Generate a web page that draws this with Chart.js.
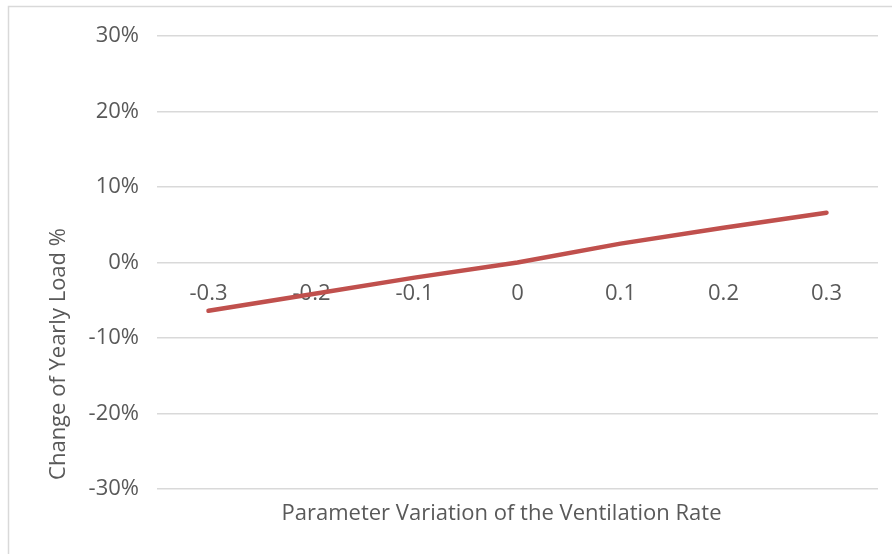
<!DOCTYPE html>
<html>
<head>
<meta charset="utf-8">
<script src="https://cdn.jsdelivr.net/npm/chart.js@4/dist/chart.umd.min.js"></script>
<style>
  html, body { margin: 0; padding: 0; background: #fff; }
  #wrap { position: relative; width: 892px; height: 554px; }
</style>
</head>
<body>
<div id="wrap"><canvas id="c" width="892" height="554"></canvas></div>
<script>
const categories = ["-0.3", "-0.2", "-0.1", "0", "0.1", "0.2", "0.3"];
const yearlyLoadChange = [-0.064, -0.042, -0.020, 0.000, 0.025, 0.046, 0.066];
const yTickValues = [-0.3, -0.2, -0.1, 0, 0.1, 0.2, 0.3];
const xTitle = "Parameter Variation of the Ventilation Rate";
const yTitle = "Change of Yearly Load %";

const FONT = "'Open Sans', 'DejaVu Sans', sans-serif";
const TEXT = "#595959";
const GRID = "#d9d9d9";

const borderPlugin = {
  id: 'outerBorder',
  beforeDraw(chart) {
    const ctx = chart.ctx;
    ctx.save();
    ctx.fillStyle = '#fff';
    ctx.fillRect(0, 0, chart.width, chart.height);
    ctx.strokeStyle = GRID;
    ctx.lineWidth = 1.5;
    ctx.beginPath();
    ctx.moveTo(8.5, chart.height + 2);
    ctx.lineTo(8.5, 6.5);
    ctx.lineTo(chart.width + 2, 6.5);
    ctx.stroke();
    ctx.restore();
  }
};

// Shift the title-only axes so their titles sit where the reference places them
const titleShiftPlugin = {
  id: 'titleShift',
  afterLayout(chart) {
    const x2 = chart.scales.x2;
    x2.left = chart.chartArea.left - 32;
    x2.right = chart.chartArea.right;
    x2.bottom += 4;
    const y2 = chart.scales.y2;
    y2.top = 214;
    y2.bottom = 494;
    y2.left += 2;
    y2.right += 2;
  }
};

new Chart(document.getElementById('c'), {
  type: 'line',
  data: {
    labels: categories,
    datasets: [{
      data: yearlyLoadChange,
      xAxisID: 'x',
      yAxisID: 'y',
      borderColor: '#C0504D',
      borderWidth: 4.5,
      borderCapStyle: 'round',
      borderJoinStyle: 'round',
      pointRadius: 0,
      pointHoverRadius: 0,
      tension: 0,
      fill: false
    }]
  },
  options: {
    responsive: false,
    animation: false,
    events: [],
    layout: { padding: { left: 44, right: 14, top: 36, bottom: 31 } },
    plugins: { legend: { display: false }, tooltip: { enabled: false } },
    scales: {
      y2: {
        type: 'linear',
        position: 'left',
        weight: 1,
        afterFit(scale) { scale.width = 30; },
        ticks: { display: false },
        grid: { display: false, drawTicks: false },
        border: { display: false },
        title: {
          display: true, text: yTitle, color: TEXT,
          font: { family: FONT, size: 22 }, padding: 0
        }
      },
      y: {
        min: -0.3, max: 0.3,
        position: 'left',
        weight: 0,
        afterBuildTicks(scale) { scale.ticks = yTickValues.map(v => ({ value: v })); },
        afterFit(scale) { scale.width = 83; },
        ticks: {
          color: TEXT,
          font: { family: FONT, size: 22 },
          padding: 18,
          callback: v => Math.round(v * 100) + '%'
        },
        grid: { color: GRID, lineWidth: 1.5, drawTicks: false },
        border: { display: false }
      },
      x: {
        type: 'category',
        offset: true,
        position: { y: 0 },
        ticks: {
          color: TEXT,
          font: { family: FONT, size: 22 },
          padding: 18,
          maxRotation: 0
        },
        grid: { display: false, drawTicks: false },
        border: { display: false }
      },
      x2: {
        type: 'linear',
        position: 'bottom',
        afterFit(scale) { scale.height = 34; },
        ticks: { display: false },
        grid: { display: false, drawTicks: false },
        border: { display: false },
        title: {
          display: true, text: xTitle, color: TEXT,
          font: { family: FONT, size: 22 }, padding: 0
        }
      }
    }
  },
  plugins: [borderPlugin, titleShiftPlugin]
});
</script>
</body>
</html>
